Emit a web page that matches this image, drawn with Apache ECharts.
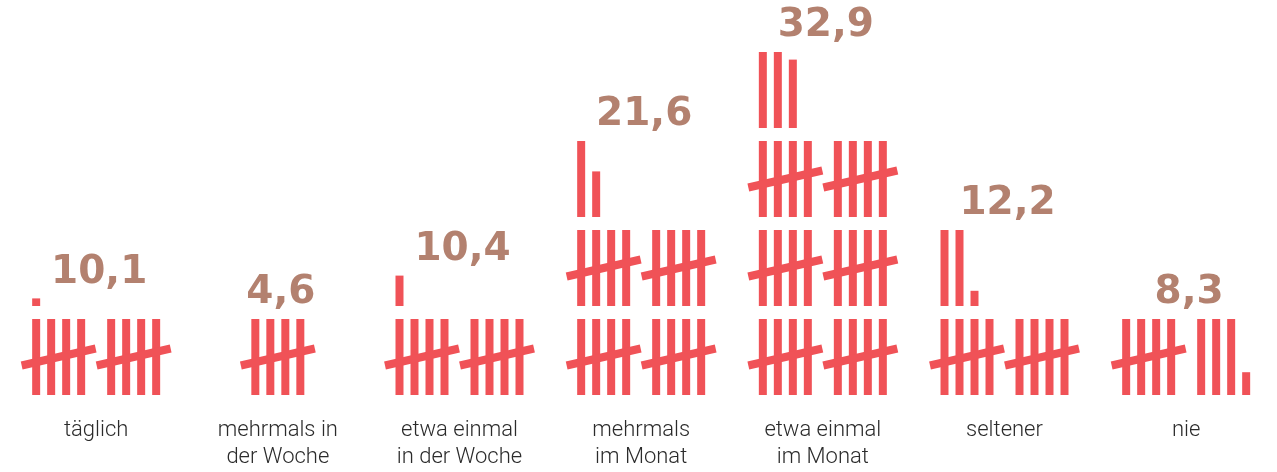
<!DOCTYPE html>
<html><head><meta charset="utf-8">
<script src="https://cdn.jsdelivr.net/npm/echarts@6/dist/echarts.min.js"></script>
<style>html,body{margin:0;padding:0;background:#fff}#c{width:1277px;height:472px}</style>
</head><body><div id="c"></div>
<script>
const categories = ['täglich', 'mehrmals in\nder Woche', 'etwa einmal\nin der Woche', 'mehrmals\nim Monat', 'etwa einmal\nim Monat', 'seltener', 'nie'];
const values = [10.1, 4.6, 10.4, 21.6, 32.9, 12.2, 8.3];
const valueLabels = ['10,1', '4,6', '10,4', '21,6', '32,9', '12,2', '8,3'];

const PER_ROW = 10, PER_GROUP = 5;
const RED = '#f05257', LABEL = '#b3816f';
const PITCH = 15, BAR_W = 8, BAR_FRAC = 76 / 89;
const SLASH_DX = 37, SLASH_DY = 8.5, SLASH_W = 8;

function renderItem(params, api) {
  const idx = api.value(0), v = api.value(1);
  const nUnits = Math.ceil(v - 1e-9);
  let widest = Math.min(PER_ROW, nUnits) - 1;
  if (widest % PER_GROUP === PER_GROUP - 1) widest -= 1;
  const blockW = widest * PITCH + BAR_W;
  const cx = api.coord([idx, 0])[0];
  const left = cx - blockW / 2;
  const children = [];
  let topY = Infinity;
  for (let u = 0; u < nUnits; u++) {
    const h = Math.min(1, v - u);
    const row = Math.floor(u / PER_ROW), slot = u % PER_ROW;
    const yb = api.coord([idx, row])[1];
    if (slot % PER_GROUP === PER_GROUP - 1) {
      const g0 = slot - (PER_GROUP - 1);
      const gx = left + g0 * PITCH + ((PER_GROUP - 2) * PITCH + BAR_W) / 2;
      const gy = api.coord([idx, row + BAR_FRAC / 2])[1];
      children.push({type: 'line', shape: {x1: gx - SLASH_DX, y1: gy + SLASH_DY, x2: gx + SLASH_DX, y2: gy - SLASH_DY},
        style: {stroke: RED, lineWidth: SLASH_W, lineCap: 'butt'}});
    } else {
      const yt = api.coord([idx, row + h * BAR_FRAC])[1];
      children.push({type: 'rect', shape: {x: left + slot * PITCH, y: yt, width: BAR_W, height: yb - yt}, style: {fill: RED}});
      topY = Math.min(topY, yt);
    }
  }
  children.push({type: 'text', style: {text: valueLabels[idx], x: cx + 3, y: topY - 26, align: 'center', verticalAlign: 'middle',
    fill: LABEL, font: 'bold 39px "DejaVu Sans"'}});
  return {type: 'group', children};
}

const chart = echarts.init(document.getElementById('c'), null, {renderer: 'canvas'});
chart.setOption({
  animation: false,
  backgroundColor: '#ffffff',
  grid: {left: 5.33, width: 1283.33, top: 0, height: 395, containLabel: false},
  xAxis: {type: 'category', data: categories, boundaryGap: true,
    axisLine: {show: false}, axisTick: {show: false}, splitLine: {show: false},
    axisLabel: {interval: 0, margin: 22, color: '#2b2b2b', fontFamily: 'Roboto', fontWeight: 300, fontSize: 22, lineHeight: 27}},
  yAxis: {type: 'value', min: 0, max: 395 / 89, show: false, splitLine: {show: false}},
  series: [{type: 'custom', renderItem: renderItem, clip: false,
    data: values.map((v, i) => [i, v])}]
});
</script></body></html>
